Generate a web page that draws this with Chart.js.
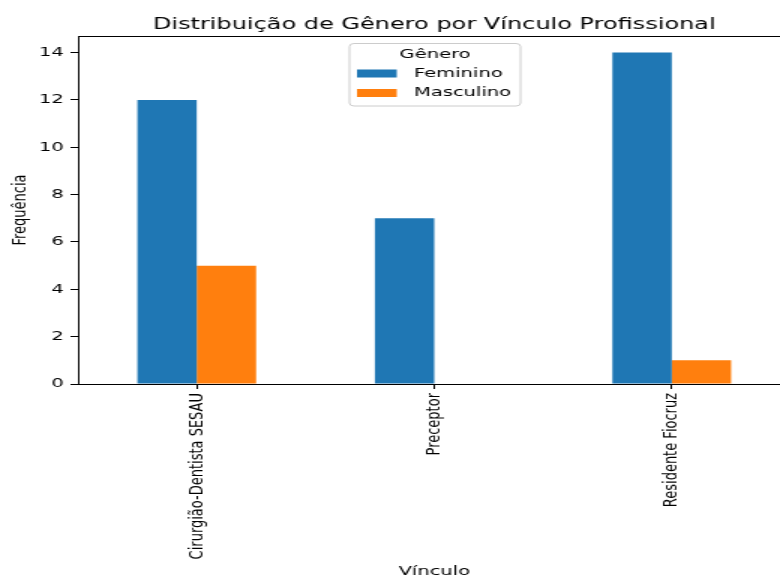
<!DOCTYPE html>
<html>
<head>
<meta charset="utf-8">
<script src="https://cdn.jsdelivr.net/npm/chart.js@4/dist/chart.umd.min.js"></script>
<style>
  body { margin: 0; overflow: hidden; background: #fff; }
  /* the reference is stretched sideways, so the canvas is too */
  #wrap { width: 527px; height: 580px; transform: scaleX(1.5); transform-origin: 0 0; }
</style>
</head>
<body>
<div id="wrap"><canvas id="chart" width="527" height="580"></canvas></div>
<script>
// Chart data
const categories = ['Cirurgião-Dentista SESAU', 'Preceptor', 'Residente Fiocruz'];
const feminino = [12, 7, 14];
const masculino = [5, 0, 1];
const seriesNames = ['Feminino', 'Masculino'];
const seriesColors = ['#1f77b4', '#ff7f0e'];
const yTicks = [0, 2, 4, 6, 8, 10, 12, 14];
const chartTitle = 'Distribuição de Gênero por Vínculo Profissional';
const legendTitle = 'Gênero';

Chart.defaults.font.family = '"DejaVu Sans", sans-serif';
Chart.defaults.color = '#000';

// Title, top spine and the legend box
const decor = {
  id: 'decor',
  afterDraw(chart) {
    const ctx = chart.ctx;
    const a = chart.chartArea;
    ctx.save();

    ctx.strokeStyle = '#000';
    ctx.lineWidth = 1;
    ctx.beginPath();
    ctx.moveTo(a.left, a.top + 0.5);
    ctx.lineTo(a.right, a.top + 0.5);
    ctx.stroke();

    ctx.fillStyle = '#000';
    ctx.font = '16px "DejaVu Sans"';
    ctx.textAlign = 'center';
    ctx.textBaseline = 'alphabetic';
    ctx.fillText(chartTitle, (a.left + a.right) / 2, 28.5);

    // legend
    ctx.beginPath();
    ctx.roundRect(233, 43.5, 114, 62.5, 3);
    ctx.fillStyle = 'rgba(255,255,255,0.8)';
    ctx.fill();
    ctx.strokeStyle = '#cccccc';
    ctx.stroke();

    ctx.fillStyle = '#000';
    ctx.font = '13px "DejaVu Sans"';
    ctx.textBaseline = 'middle';
    ctx.fillText(legendTitle, 290, 54.5);

    ctx.textAlign = 'left';
    seriesNames.forEach((name, i) => {
      const y = 69.5 + i * 19.5;
      ctx.fillStyle = seriesColors[i];
      ctx.fillRect(238, y, 26.5, 8);
      ctx.fillStyle = '#000';
      ctx.fillText(name, 276, y + 4);
    });
    ctx.restore();
  }
};

new Chart(document.getElementById('chart'), {
  type: 'bar',
  data: {
    labels: categories,
    datasets: [
      { label: seriesNames[0], data: feminino, backgroundColor: seriesColors[0], borderWidth: 0 },
      { label: seriesNames[1], data: masculino, backgroundColor: seriesColors[1], borderWidth: 0 }
    ]
  },
  options: {
    responsive: false,
    animation: false,
    devicePixelRatio: 1,
    categoryPercentage: 0.5,
    barPercentage: 1.0,
    layout: { padding: { top: 36, left: 0, right: 0, bottom: 0 } },
    plugins: {
      legend: { display: false },
      title: { display: false },
      tooltip: { enabled: false }
    },
    scales: {
      x: {
        afterFit: (s) => { s.height = 196; },
        border: { display: true, color: '#000', width: 1 },
        grid: { offset: false, drawOnChartArea: false, drawTicks: true, tickLength: 5, color: '#000' },
        ticks: {
          autoSkip: false,
          minRotation: 90,
          maxRotation: 90,
          padding: 4,
          font: { size: 13 },
          color: '#000'
        },
        title: {
          display: true,
          text: 'Vínculo',
          font: { size: 13 },
          padding: { top: 0, bottom: 1 },
          color: '#000'
        }
      },
      y: {
        min: 0,
        max: 14.7,
        afterFit: (s) => { s.width = 52; },
        afterBuildTicks: (s) => { s.ticks = yTicks.map(v => ({ value: v })); },
        border: { display: true, color: '#000', width: 1 },
        grid: { drawOnChartArea: false, drawTicks: true, tickLength: 5, color: '#000' },
        ticks: {
          includeBounds: false,
          padding: 4.5,
          font: { size: 13 },
          color: '#000'
        },
        title: {
          display: true,
          text: 'Frequência',
          font: { size: 13 },
          padding: { top: 6, bottom: 0 },
          color: '#000'
        }
      }
    }
  },
  plugins: [decor]
});
</script>
</body>
</html>
